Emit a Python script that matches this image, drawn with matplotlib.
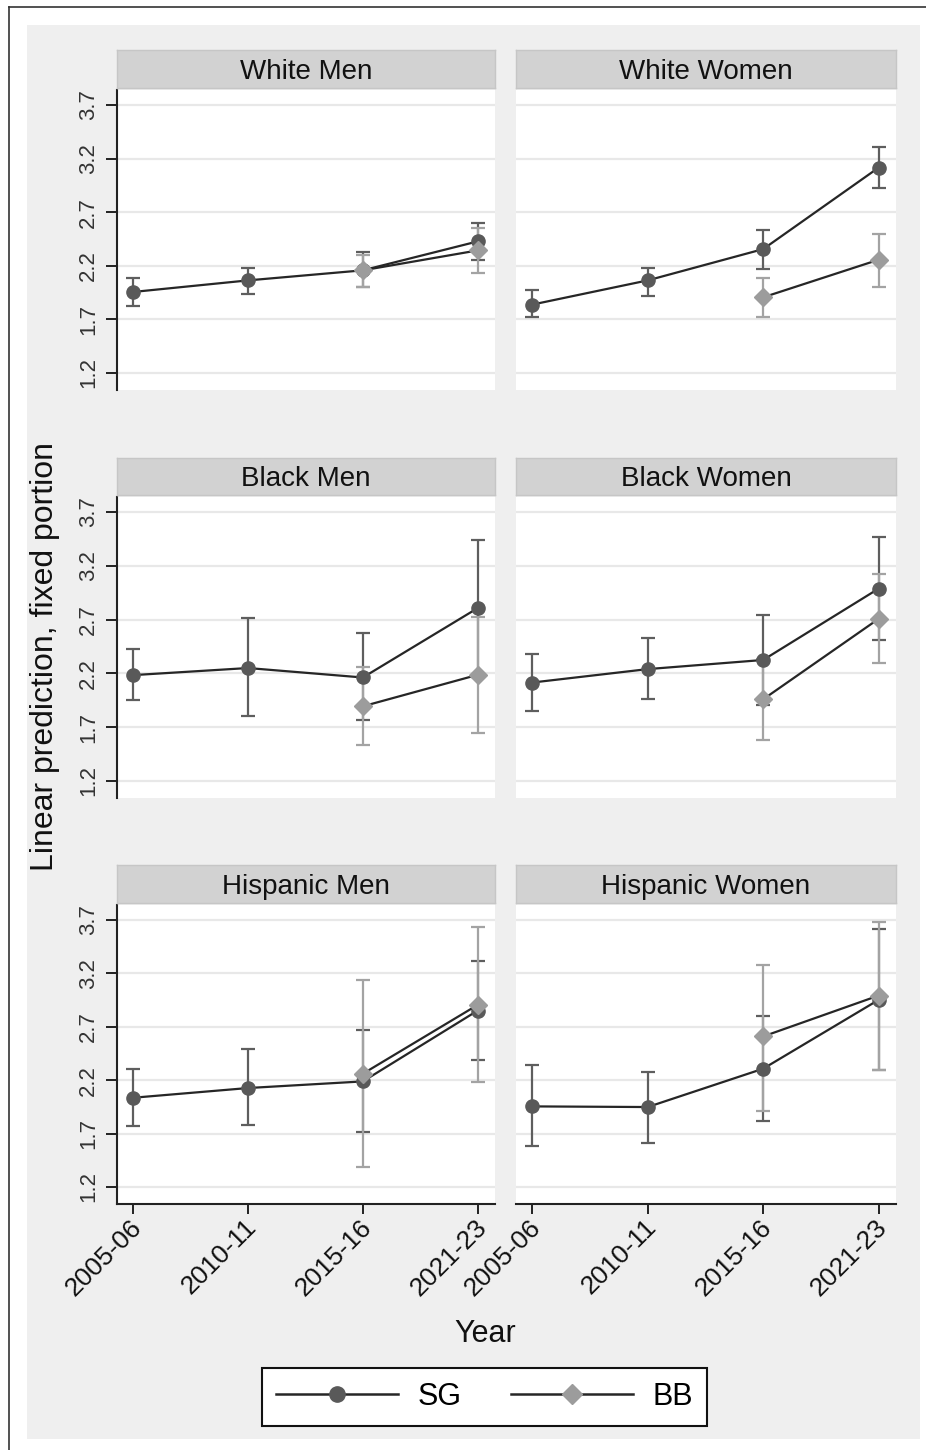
import numpy as np
import matplotlib
matplotlib.use("Agg")
import matplotlib.pyplot as plt
from matplotlib.lines import Line2D
from matplotlib.transforms import ScaledTranslation

plt.rcParams['font.family'] = ['Liberation Sans', 'DejaVu Sans']

# ---------------- data ----------------
panels = ["White Men", "White Women", "Black Men", "Black Women",
          "Hispanic Men", "Hispanic Women"]
years = ["2005-06", "2010-11", "2015-16", "2021-23"]
yticks = [1.2, 1.7, 2.2, 2.7, 3.2, 3.7]
nan = np.nan

sg_mean = [[1.955, 2.063, 2.157, 2.427],
           [1.837, 2.063, 2.355, 3.116],
           [2.183, 2.249, 2.161, 2.807],
           [2.114, 2.239, 2.324, 2.988],
           [2.035, 2.126, 2.188, 2.852],
           [1.954, 1.948, 2.307, 2.952]]
sg_lo = [[1.820, 1.936, 1.998, 2.250],
         [1.720, 1.920, 2.166, 2.927],
         [1.949, 1.800, 1.767, 2.170],
         [1.846, 1.965, 1.905, 2.510],
         [1.767, 1.777, 1.716, 2.390],
         [1.583, 1.614, 1.814, 2.297]]
sg_hi = [[2.085, 2.180, 2.330, 2.598],
         [1.970, 2.180, 2.530, 3.306],
         [2.427, 2.710, 2.573, 3.440],
         [2.380, 2.526, 2.742, 3.469],
         [2.307, 2.487, 2.671, 3.320],
         [2.344, 2.275, 2.805, 3.616]]

bb_mean = [[nan, nan, 2.157, 2.343],
           [nan, nan, 1.905, 2.256],
           [nan, nan, 1.893, 2.186],
           [nan, nan, 1.958, 2.707],
           [nan, nan, 2.260, 2.905],
           [nan, nan, 2.609, 2.992]]
bb_lo = [[nan, nan, 2.000, 2.132],
         [nan, nan, 1.720, 2.004],
         [nan, nan, 1.531, 1.646],
         [nan, nan, 1.580, 2.295],
         [nan, nan, 1.387, 2.180],
         [nan, nan, 1.911, 2.297]]
bb_hi = [[nan, nan, 2.300, 2.550],
         [nan, nan, 2.082, 2.498],
         [nan, nan, 2.256, 2.726],
         [nan, nan, 2.336, 3.120],
         [nan, nan, 3.133, 3.631],
         [nan, nan, 3.282, 3.678]]

# ---------------- style ----------------
W, H = 926, 1450
sg_color = '#595959'
bb_color = '#9c9c9c'
sg_ci = '#5e5e5e'
bb_ci = '#a3a3a3'
line_color = '#262626'

fig = plt.figure(figsize=(W / 100, H / 100), dpi=100, facecolor='white')


def ax_rect(x0, y0, x1, y1):
    return [x0 / W, 1 - y1 / H, (x1 - x0) / W, (y1 - y0) / H]


# outer gray region and border lines
bg = fig.add_axes(ax_rect(27, 25, 920, 1439), zorder=-5)
bg.set_facecolor('#efefef')
bg.set_xticks([]); bg.set_yticks([])
for sp in bg.spines.values():
    sp.set_visible(False)
fig.add_artist(Line2D([9 / W, 9 / W], [0, 1 - 7 / H], transform=fig.transFigure,
                      color='#333333', lw=1.2))
fig.add_artist(Line2D([9 / W, 1], [1 - 7 / H, 1 - 7 / H], transform=fig.transFigure,
                      color='#333333', lw=1.2))

col_x = [(117, 495), (516, 896)]
rows = [(90, 390), (497, 798), (905, 1204)]
strips = [(50, 88), (458, 495), (865, 903)]

x = np.arange(1, len(years) + 1)
label_shift = ScaledTranslation(5 / 100, 0, fig.dpi_scale_trans)

for i, name in enumerate(panels):
    r, c = divmod(i, 2)
    x0, x1 = col_x[c]
    y0, y1 = rows[r]
    ax = fig.add_axes(ax_rect(x0, y0, x1, y1))
    ax.set_facecolor('white')
    ax.set_xlim(0.86, 4.15)
    ax.set_ylim(1.04, 3.84)
    ax.set_yticks(yticks)
    ax.set_xticks(x)
    ax.grid(axis='y', color='#e8e8e8', lw=1.6)
    ax.grid(axis='x', visible=False)
    ax.set_axisbelow(True)
    for s in ['top', 'right']:
        ax.spines[s].set_visible(False)
    ax.spines['left'].set_visible(c == 0)
    ax.spines['bottom'].set_visible(r == 2)
    for s in ['left', 'bottom']:
        ax.spines[s].set_color('#222222')
        ax.spines[s].set_linewidth(1.5)

    if c == 0:
        ax.tick_params(axis='y', length=8, width=1.4, color='#222222', pad=5,
                       labelsize=16, labelcolor='#333333')
        ax.set_yticklabels([f"{v:.1f}" for v in yticks], rotation=90,
                           va='center', ha='right')
    else:
        ax.tick_params(axis='y', left=False, labelleft=False)

    if r == 2:
        ax.tick_params(axis='x', length=7, width=1.4, color='#222222', pad=7,
                       labelsize=19, labelcolor='#111111')
        ax.set_xticklabels(years, rotation=45, ha='right', va='center',
                           rotation_mode='anchor')
        for lab in ax.get_xticklabels():
            lab.set_transform(lab.get_transform() + label_shift)
    else:
        ax.tick_params(axis='x', bottom=False, labelbottom=False)

    sm = np.array(sg_mean[i]); sl = np.array(sg_lo[i]); sh = np.array(sg_hi[i])
    bm = np.array(bb_mean[i]); bl = np.array(bb_lo[i]); bh = np.array(bb_hi[i])
    ok = np.isfinite(bm)

    ax.errorbar(x, sm, yerr=[sm - sl, sh - sm], fmt='none', ecolor=sg_ci,
                elinewidth=1.6, capsize=4.7, capthick=1.6, zorder=2)
    ax.errorbar(x[ok], bm[ok], yerr=[bm[ok] - bl[ok], bh[ok] - bm[ok]], fmt='none',
                ecolor=bb_ci, elinewidth=1.6, capsize=4.7, capthick=1.6, zorder=2.5)
    ax.plot(x, sm, color=line_color, lw=1.6, marker='o', ms=9.5, mfc=sg_color,
            mec=sg_color, zorder=3)
    ax.plot(x[ok], bm[ok], color=line_color, lw=1.6, marker='D', ms=9,
            mfc=bb_color, mec=bb_color, zorder=4)

    # strip title
    s0, s1 = strips[r]
    sax = fig.add_axes(ax_rect(x0, s0, x1, s1))
    sax.set_facecolor('#d2d2d2')
    sax.set_xticks([]); sax.set_yticks([])
    for sp in sax.spines.values():
        sp.set_color('#c6c6c6')
        sp.set_linewidth(1.0)
    sax.text(0.5, 0.24, name, ha='center', va='baseline', fontsize=20,
             color='#111111', transform=sax.transAxes)

# axis titles
fig.text(45 / W, 1 - 657 / H, "Linear prediction, fixed portion", rotation=90,
         ha='center', va='center', fontsize=23, color='#111111')
fig.text(485 / W, 1 - 1334 / H, "Year", ha='center', va='center', fontsize=22,
         color='#111111')

# legend
h_sg = Line2D([], [], color=line_color, lw=1.8, marker='o', ms=11, mfc=sg_color, mec=sg_color)
h_bb = Line2D([], [], color=line_color, lw=1.8, marker='D', ms=10, mfc=bb_color, mec=bb_color)
leg = fig.legend(handles=[h_sg, h_bb], labels=['SG', 'BB'], ncol=2, loc='center',
                 bbox_to_anchor=(484.5 / W, 1 - 1397 / H), frameon=True, fancybox=False,
                 edgecolor='#111111', facecolor='white', framealpha=1, fontsize=22,
                 handlelength=4.0, handletextpad=0.65, columnspacing=1.6,
                 borderpad=0.45)
leg.get_frame().set_linewidth(1.5)

fig.savefig("out.png", dpi=100, facecolor='white')
